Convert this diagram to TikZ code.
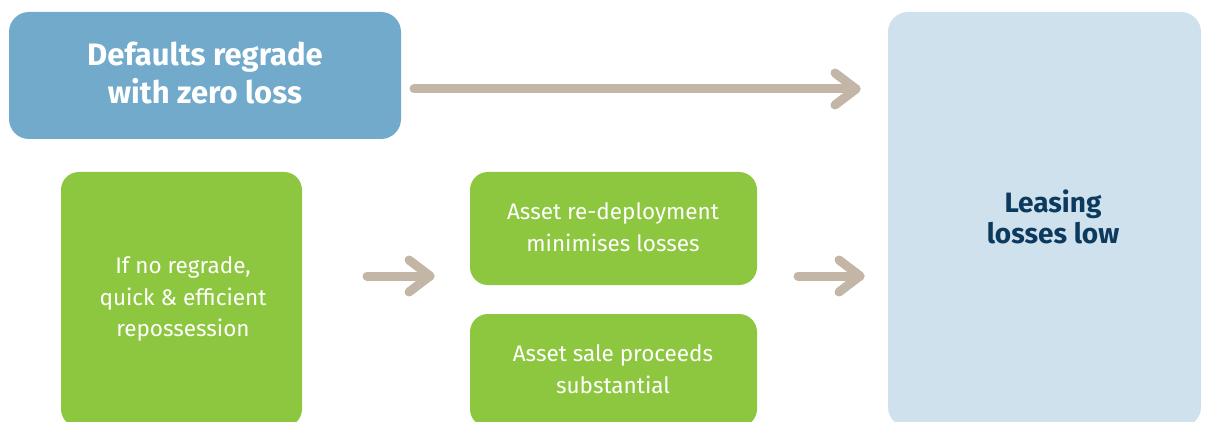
\documentclass[tikz,border=0pt]{standalone}
\usepackage{fontspec}
\setmainfont{Fira Sans}
\usetikzlibrary{calc}
\definecolor{regradeblue}{HTML}{72AACB}
\definecolor{leafgreen}{HTML}{8DC63F}
\definecolor{paleblue}{HTML}{CFE1EC}
\definecolor{navy}{HTML}{0B3A5E}
\definecolor{taupe}{HTML}{C4B6A6}
\tikzset{
  arrowline/.style={draw=taupe, line width=9pt, line cap=round, line join=round},
  bigtext/.style={font=\fontsize{31}{38}\selectfont\bfseries, align=center},
  smalltext/.style={text=white, font=\fontsize{22.5}{31.5}\selectfont, align=center},
}
\begin{document}
\begin{tikzpicture}[x=1pt, y=-1pt]
\useasboundingbox (0,0) rectangle (1207,422);
\clip (0,0) rectangle (1207,422);
% boxes
\fill[regradeblue, rounded corners=20pt] (9,12) rectangle (401,139);
\node[bigtext, text=white] (regrade) at (205,73) {Defaults regrade\\with zero loss};
\fill[leafgreen, rounded corners=18pt] (61,172) rectangle (302,427);
\node[smalltext] (repo) at (183,299) {If no regrade,\\quick \& efficient\\repossession};
\fill[leafgreen, rounded corners=18pt] (470,172) rectangle (757,285);
\node[smalltext] (redeploy) at (613,227) {Asset re-deployment\\minimises losses};
\fill[leafgreen, rounded corners=18pt] (470,314) rectangle (757,427);
\node[smalltext] (sale) at (613,369) {Asset sale proceeds\\substantial};
\fill[paleblue, rounded corners=20pt] (888,12) rectangle (1201,427);
\node[text=navy, font=\fontsize{28}{31}\selectfont\bfseries, align=center] (low) at (1053,217) {Leasing\\losses low};
% connectors
\coordinate (a1s) at (414,89); \coordinate (a1e) at (856,89);
\coordinate (a2s) at (367,276); \coordinate (a2e) at (430,276);
\coordinate (a3s) at (798,276); \coordinate (a3e) at (860,276);
\foreach \s/\e in {a1s/a1e, a2s/a2e, a3s/a3e}{
  \draw[arrowline] (\s) -- (\e);
  \draw[arrowline] ($(\e)+(-21,-16)$) -- (\e) -- ($(\e)+(-21,16)$);
}
\end{tikzpicture}
\end{document}
